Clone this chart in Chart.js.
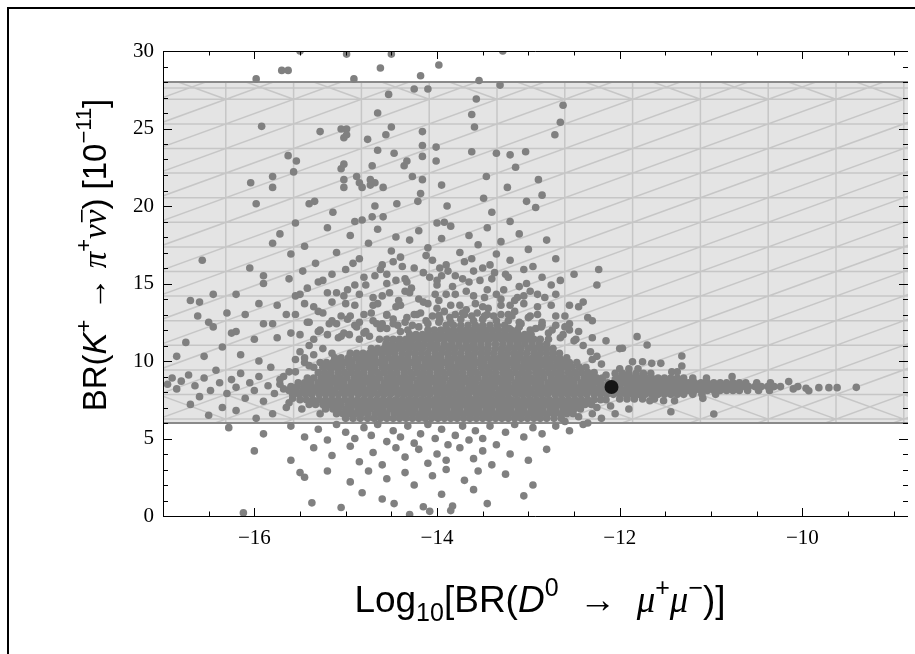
<!DOCTYPE html>
<html>
<head>
<meta charset="utf-8">
<script src="https://cdn.jsdelivr.net/npm/chart.js@4.4.1/dist/chart.umd.min.js"></script>
<style>
  html, body { margin: 0; padding: 0; background: #fff; overflow: hidden; }
</style>
</head>
<body>
<canvas id="myChart" width="915" height="654"></canvas>
<script>
//----- data

let xTicks = [-16, -14, -12, -10];
let yTicks = [0, 5, 10, 15, 20, 25, 30];
let xRange = [-17, -8.844];
let yRange = [0, 30];
let bandRange = [6, 28]; // allowed BR(K+ -> pi+ nu nubar) band
let bestPoint = [-12.09, 8.32];

// scattered points outside the solid core, [log10 BR(D0), BR(K+)]
let scanPoints = [
  // top, y > 19
  [-15.98,28.2],[-15.70,28.75],[-15.63,28.75],[-15.50,30.0],[-14.99,29.8],[-14.91,28.2],[-14.62,28.9],[-14.50,29.8],
  [-14.18,28.4],[-13.98,29.1],[-14.25,27.55],[-14.10,27.55],[-14.53,27.2],[-14.65,26.0],[-15.92,25.14],[-15.28,24.8],
  [-15.05,24.97],[-14.99,24.97],[-15.02,24.4],[-14.99,24.6],[-14.50,25.1],[-14.56,24.6],[-14.16,24.8],[-14.76,24.3],
  [-14.65,23.6],[-14.47,23.4],[-14.16,23.9],[-14.01,23.8],[-14.16,23.2],[-14.01,22.9],[-15.63,23.25],[-15.54,22.9],
  [-15.57,22.2],[-15.02,22.7],[-15.05,22.4],[-14.71,22.6],[-14.36,22.6],[-14.33,22.9],[-16.04,21.5],[-15.80,21.9],
  [-15.80,21.2],[-15.02,21.7],[-15.02,21.2],[-14.88,21.9],[-14.85,21.5],[-14.82,21.2],[-14.73,21.7],[-14.73,21.35],
  [-14.68,21.5],[-14.59,21.2],[-14.27,21.9],[-14.16,21.7],[-13.95,21.35],[-15.98,20.15],[-15.40,20.15],[-15.34,20.3],
  [-15.14,19.6],[-14.68,20.0],[-14.44,20.15],[-14.18,20.8],[-14.21,20.3],[-14.82,19.1],[-14.71,19.3],[-14.59,19.3],
  [-13.92,18.95],[-13.89,20.0],
  [-13.28,30.0],[-13.54,28.1],[-13.31,27.8],[-13.57,26.9],[-13.62,25.9],[-12.62,26.5],[-12.65,25.4],[-12.71,24.6],
  [-13.03,23.5],[-13.20,23.3],[-13.35,23.4],[-13.14,22.5],[-13.46,21.9],[-12.89,21.7],[-13.23,21.2],[-12.85,20.7],
  [-13.49,20.5],[-13.02,20.3],[-13.40,19.6],[-12.92,19.9],[-13.62,23.5],[-13.59,25.1],
  // y 15 - 19
  [-16.57,16.5],[-15.72,18.2],[-15.45,17.4],[-15.33,16.3],[-15.47,15.8],[-15.90,15.5],[-15.60,16.9],[-15.20,18.6],
  [-15.10,17.0],[-15.00,15.9],[-14.95,18.1],[-14.85,16.6],[-14.80,15.4],[-14.75,17.6],[-14.65,18.5],[-14.60,16.2],
  [-14.55,15.6],[-14.50,17.1],[-14.45,18.0],[-14.40,16.7],[-14.35,15.3],[-14.30,17.8],[-14.25,16.0],[-14.20,18.4],
  [-14.15,15.7],[-14.10,17.3],[-14.05,16.5],[-14.00,15.2],[-13.95,17.9],[-13.90,16.2],[-13.85,18.7],[-13.80,15.5],
  [-13.75,17.0],[-13.70,16.4],[-13.65,18.1],[-13.60,15.8],[-13.55,17.5],[-13.50,16.0],[-13.45,18.6],[-13.40,15.3],
  [-13.35,16.9],[-13.30,17.7],[-13.25,15.6],[-13.20,16.5],[-13.10,18.2],[-13.05,15.9],[-13.00,17.2],[-12.95,16.1],
  [-12.85,15.4],[-12.80,17.8],[-12.70,16.6],[-12.65,15.2],[-15.25,15.2],[-15.55,18.9],[-15.80,17.6],[-16.05,16.0],
  [-14.90,19.0],[-14.00,18.9],[-13.20,19.0],[-12.23,15.9],[-12.50,15.6],
  [-14.62,15.9],[-14.38,16.1],[-14.12,16.8],[-13.88,15.8],[-13.62,16.6],[-13.37,15.7],[-13.95,15.5],[-14.45,15.2],
  [-15.15,15.6],[-14.98,14.6],[-14.92,16.3],[-14.78,14.9],[-14.68,15.5],[-14.52,14.4],[-14.48,16.4],[-14.33,15.1],
  [-14.28,14.7],[-14.08,15.4],[-14.02,14.3],[-13.97,16.0],[-13.83,14.8],[-13.72,15.3],[-13.68,14.5],[-13.53,15.2],
  [-13.48,14.1],[-13.42,16.2],[-13.27,14.6],[-13.22,15.4],[-13.12,14.1],[-13.02,15.0],[-12.98,14.5],[-12.82,14.1],
  [-15.42,14.7],[-15.62,15.3],[-15.02,14.2],[-14.42,13.9],[-13.98,13.9],[-13.15,13.9],
  // y 11 - 15
  [-16.45,14.3],[-15.90,15.0],[-15.55,14.2],[-15.30,15.1],[-15.10,14.4],[-14.90,14.9],[-14.70,14.1],[-14.55,15.0],
  [-14.35,14.5],[-14.20,14.0],[-14.00,14.9],[-13.80,14.3],[-13.65,15.1],[-13.45,14.6],[-13.30,14.0],[-13.10,14.8],
  [-12.90,14.3],[-12.75,14.9],
  [-16.60,13.8],[-16.20,14.3],[-15.75,13.6],[-15.50,14.3],[-15.35,13.5],[-15.20,14.4],[-15.00,13.7],[-14.85,14.3],
  [-14.70,13.6],[-14.60,14.2],[-14.45,13.5],[-14.30,14.4],[-14.15,13.8],[-14.00,13.4],[-13.90,14.3],[-13.75,13.6],
  [-13.60,14.2],[-13.50,13.5],[-13.35,14.3],[-13.20,13.6],[-13.05,14.2],[-12.90,13.5],[-12.70,14.3],[-12.55,13.6],
  [-16.30,13.1],[-15.95,13.7],[-15.65,13.0],[-15.45,13.7],[-15.30,13.2],[-15.15,13.8],[-15.05,12.9],[-14.90,13.6],
  [-14.80,13.0],[-14.65,13.7],[-14.55,12.95],[-14.40,13.6],[-14.25,13.0],[-14.10,13.7],[-13.98,12.95],[-13.85,13.6],
  [-13.70,13.0],[-13.58,13.7],[-13.45,13.0],[-13.30,13.6],[-13.18,12.9],[-13.05,13.7],[-12.90,13.0],[-12.75,13.6],
  [-12.60,12.9],[-12.45,13.5],
  [-16.50,12.5],[-16.10,13.0],[-15.80,12.4],[-15.55,13.0],[-15.40,12.5],[-15.25,13.1],[-15.10,12.4],[-14.98,12.7],
  [-14.85,12.5],[-14.72,13.1],[-14.60,12.4],[-14.48,12.7],[-14.35,12.5],[-14.22,13.0],[-14.10,12.4],[-13.97,12.7],
  [-13.85,12.5],[-13.72,13.1],[-13.60,12.6],[-13.48,12.9],[-13.35,12.6],[-13.22,13.0],[-13.10,12.5],[-12.98,12.9],
  [-12.85,12.3],[-12.70,12.9],[-12.55,12.4],[-12.35,12.8],
  [-16.20,11.9],[-15.90,12.4],[-15.60,11.8],[-15.42,12.5],[-15.28,12.0],[-15.15,12.6],[-15.02,11.8],[-14.90,12.3],
  [-14.78,11.9],[-14.66,12.4],[-14.55,12.1],[-14.43,12.3],[-14.32,12.0],[-14.20,12.2],[-13.21,12.1],[-13.10,12.2],
  [-12.98,12.0],[-12.86,12.2],[-12.74,12.0],[-12.60,12.2],[-12.45,11.9],
  [-15.75,11.5],[-15.50,11.7],[-15.35,11.4],[-15.20,11.7],[-15.08,11.5],[-14.96,11.7],[-14.85,11.4],[-14.74,11.6],
  [-14.63,11.4],[-12.78,11.4],[-12.65,11.5],[-12.50,11.3],[-12.30,11.5],
  [-15.30,11.9],[-15.18,12.4],[-15.05,11.6],[-14.95,12.9],[-14.88,12.2],[-14.80,11.8],[-14.70,12.6],[-14.62,12.1],
  [-14.55,13.0],[-14.48,12.4],[-14.40,11.9],[-14.33,12.8],[-14.27,12.3],[-14.18,13.1],[-14.12,12.6],[-14.05,12.9],
  [-13.98,12.5],[-13.92,13.2],[-13.86,12.8],[-13.80,13.0],[-13.74,12.7],[-13.68,13.3],[-13.62,12.9],[-13.56,13.1],
  [-13.50,12.7],[-13.44,13.4],[-13.38,12.9],[-13.30,13.0],[-13.22,12.6],[-13.15,13.2],[-13.08,12.4],[-13.00,12.8],
  [-12.92,12.1],[-12.85,12.5],[-12.78,11.8],[-12.70,12.3],[-12.62,11.7],[-12.55,12.0],[-12.48,11.4],[-12.40,11.0],
  [-12.32,10.6],[-12.25,10.3],
  [-15.40,9.7],[-15.55,9.3],[-12.15,9.1],[-12.05,8.8],
  // ragged core edges
  [-15.72,8.5],[-15.68,9.0],[-15.62,7.3],[-15.48,6.9],[-15.28,6.6],[-15.35,9.6],[-15.45,9.9],[-12.60,6.1],
  [-12.45,6.4],[-12.25,7.0],[-12.30,10.1],[-12.20,9.8],
  // left side
  [-16.95,8.5],[-16.90,8.9],[-16.85,8.2],[-16.80,8.7],[-16.72,9.1],[-16.65,8.4],[-16.60,7.7],[-16.55,8.9],
  [-16.48,8.1],[-16.42,9.4],[-16.38,8.6],[-16.30,7.9],[-16.25,8.8],[-16.20,8.3],[-16.15,9.2],[-16.10,7.6],
  [-16.05,8.6],[-16.00,8.1],[-15.95,9.0],[-15.90,7.4],[-15.85,8.4],[-15.82,9.6],[-15.78,7.9],[-15.72,8.8],
  [-15.68,8.2],[-15.65,7.0],[-15.62,9.3],[-15.58,7.6],[-15.55,10.1],
  [-16.70,13.9],[-16.75,11.2],[-16.55,10.3],[-16.45,12.2],[-16.35,10.9],[-16.25,11.8],[-16.15,10.4],[-16.00,11.4],
  [-15.95,10.0],[-16.85,10.3],[-16.62,12.9],[-16.70,7.2],[-16.50,6.5],[-16.35,7.0],[-16.20,6.8],[-15.98,6.3],
  [-15.80,6.6],[-15.50,10.6],[-15.40,11.0],[-15.45,10.2],[-15.35,10.4],[-15.25,10.8],[-15.15,10.5],
  // below the band
  [-16.28,5.7],[-15.90,5.3],[-15.60,5.8],[-15.45,5.1],[-15.30,5.6],[-15.20,4.9],[-15.10,5.9],[-15.00,5.4],
  [-14.90,5.0],[-14.80,5.7],[-14.72,5.2],[-14.65,5.9],[-14.55,4.8],[-14.48,5.5],[-14.40,5.1],[-14.32,5.8],
  [-14.25,4.7],[-14.18,5.3],[-14.10,5.9],[-14.02,5.0],[-13.95,5.6],[-13.88,4.6],[-13.80,5.2],[-13.72,5.8],
  [-13.65,4.9],[-13.58,5.5],[-13.50,5.0],[-13.42,5.8],[-13.35,4.6],[-13.25,5.4],[-13.15,5.9],[-13.05,5.1],
  [-12.95,5.7],[-12.85,5.3],[-12.70,5.8],[-12.55,5.5],[-12.40,5.9],
  [-16.00,4.2],[-15.60,3.6],[-15.35,4.4],[-15.15,3.9],[-14.95,4.5],[-14.85,3.5],[-14.70,4.1],[-14.60,3.3],
  [-14.45,4.4],[-14.35,3.8],[-14.20,4.3],[-14.10,3.4],[-14.00,4.0],[-13.90,3.6],[-13.75,4.4],[-13.60,3.7],
  [-13.50,4.2],[-13.40,3.3],[-13.20,4.0],[-13.00,3.6],[-12.80,4.3],
  [-15.50,2.8],[-15.45,2.5],[-15.20,2.9],[-14.95,2.2],[-14.75,2.9],[-14.55,2.4],[-14.35,2.8],[-14.25,2.0],
  [-14.05,2.6],[-13.90,3.0],[-13.70,2.3],[-13.55,2.9],[-13.25,2.7],[-12.95,2.0],
  [-16.12,0.2],[-15.37,0.85],[-15.05,0.55],[-14.82,1.5],[-14.60,1.1],[-14.47,0.8],[-14.30,0.1],[-14.15,0.6],
  [-14.08,0.3],[-13.95,1.4],[-13.85,0.35],[-13.83,0.65],[-13.60,1.7],[-13.45,0.8],[-13.05,1.3],
  // right of the core
  [-12.30,12.6],[-12.15,11.3],[-12.00,10.8],[-11.97,10.82],[-11.81,11.57],[-11.70,11.03],[-12.40,13.8],[-12.25,14.9],
  [-11.32,10.32],[-11.32,9.68],[-11.43,9.31],[-11.37,9.31],[-11.86,9.95],[-11.75,9.95],[-11.65,9.85],[-11.55,9.85],
  [-11.09,7.59],[-10.97,6.58],[-11.44,6.73],[-11.67,7.44],[-11.52,7.44],[-11.40,7.44],[-12.20,6.3],[-12.35,6.0],
  [-11.90,6.9],[-12.05,6.6],[-12.10,7.1],[-12.30,6.6],
  [-12.00,9.5],[-11.90,9.5],[-11.80,9.5],
  [-12.05,9.2],[-11.97,9.2],[-11.90,9.2],[-11.82,9.2],[-11.74,9.2],[-11.66,9.2],
  [-12.00,7.55],[-11.92,7.55],[-11.84,7.55],[-11.75,7.55],[-11.62,7.55],
  [-10.77,8.99],[-10.15,8.67],[-9.96,8.24],[-9.93,8.08],[-9.82,8.28],[-9.71,8.28],[-9.62,8.28],[-9.41,8.3],
  [-10.05,8.35],[-10.10,8.2]
];

// solid core and tail, read as rows: [BR(K+), log10 BR(D0) values]
let coreRows = [
  [6.3, [-15.00,-14.92,-14.84,-14.76,-14.69,-14.62,-14.55,-14.48,-14.41,-14.34,-14.27,-14.20,-14.13,-14.06,-13.99,-13.92,
         -13.85,-13.78,-13.71,-13.64,-13.57,-13.50,-13.43,-13.36,-13.29,-13.22,-13.15,-13.08,-13.01,-12.94,-12.87,-12.80,
         -12.72,-12.64]],
  [6.6, [-15.10,-15.03,-14.97,-14.90,-14.83,-14.76,-14.68,-14.61,-14.55,-14.47,-14.40,-14.33,-14.26,-14.19,-14.12,-14.05,
         -13.98,-13.91,-13.84,-13.77,-13.70,-13.63,-13.56,-13.49,-13.42,-13.35,-13.28,-13.21,-13.14,-13.07,-13.00,-12.93,
         -12.86,-12.79,-12.72,-12.65,-12.58,-12.51]],
  [6.9, [-15.22,-15.14,-15.08,-15.00,-14.94,-14.86,-14.80,-14.73,-14.65,-14.59,-14.51,-14.45,-14.38,-14.30,-14.24,-14.16,
         -14.10,-14.02,-13.96,-13.89,-13.81,-13.75,-13.67,-13.61,-13.54,-13.46,-13.40,-13.32,-13.26,-13.19,-13.11,-13.05,
         -12.97,-12.91,-12.84,-12.76,-12.70,-12.62,-12.56,-12.50,-12.43]],
  [7.2, [-15.40,-15.33,-15.25,-15.19,-15.11,-15.05,-14.97,-14.90,-14.83,-14.76,-14.69,-14.62,-14.55,-14.48,-14.41,-14.34,
         -14.27,-14.20,-14.13,-14.06,-13.99,-13.92,-13.85,-13.78,-13.71,-13.64,-13.57,-13.50,-13.43,-13.36,-13.29,-13.22,
         -13.15,-13.08,-13.01,-12.94,-12.87,-12.80,-12.73,-12.66,-12.59,-12.52,-12.45,-12.38,-12.31]],
  [7.5, [-15.50,-15.43,-15.36,-15.29,-15.22,-15.15,-15.08,-15.01,-14.94,-14.87,-14.80,-14.73,-14.66,-14.59,-14.52,-14.45,
         -14.38,-14.31,-14.24,-14.17,-14.10,-14.03,-13.96,-13.89,-13.82,-13.75,-13.68,-13.61,-13.54,-13.47,-13.40,-13.33,
         -13.26,-13.19,-13.12,-13.05,-12.98,-12.91,-12.84,-12.77,-12.70,-12.63,-12.56,-12.49,-12.42,-12.35,-12.28,-12.21,-12.15]],
  [7.85, [-15.58,-15.51,-15.44,-15.37,-15.29,-15.22,-15.15,-15.08,-15.01,-14.94,-14.86,-14.79,-14.72,-14.65,-14.58,-14.51,
         -14.43,-14.36,-14.29,-14.22,-14.15,-14.08,-14.00,-13.93,-13.86,-13.79,-13.72,-13.65,-13.57,-13.50,-13.43,-13.36,
         -13.29,-13.22,-13.14,-13.07,-13.00,-12.93,-12.86,-12.79,-12.71,-12.64,-12.57,-12.50,-12.43,-12.36,-12.28,-12.21,
         -12.14,-12.07,-12.00,-11.93,-11.86,-11.79,-11.72,-11.65,-11.58,-11.51,-11.44,-11.37,-11.30,-11.20,-11.10,-10.95]],
  [8.1, [-15.62,-15.55,-15.47,-15.40,-15.33,-15.26,-15.19,-15.12,-15.04,-14.97,-14.90,-14.83,-14.76,-14.69,-14.61,-14.54,
         -14.47,-14.40,-14.33,-14.26,-14.18,-14.11,-14.04,-13.97,-13.90,-13.83,-13.75,-13.68,-13.61,-13.54,-13.47,-13.40,
         -13.32,-13.25,-13.18,-13.11,-13.04,-12.97,-12.89,-12.82,-12.75,-12.68,-12.61,-12.54,-12.46,-12.39,-12.32,-12.25,
         -12.18,-12.11,-12.03,-11.96,-11.88,-11.81,-11.74,-11.67,-11.60,-11.53,-11.46,-11.39,-11.32,-11.25,-11.18,-11.11,
         -11.04,-10.97,-10.90,-10.83,-10.76,-10.69,-10.60,-10.48,-10.36]],
  [8.35, [-15.60,-15.53,-15.45,-15.38,-15.31,-15.24,-15.17,-15.09,-15.02,-14.95,-14.88,-14.81,-14.73,-14.66,-14.59,-14.52,
         -14.45,-14.37,-14.30,-14.23,-14.16,-14.09,-14.01,-13.94,-13.87,-13.80,-13.73,-13.65,-13.58,-13.51,-13.44,-13.37,
         -13.29,-13.22,-13.15,-13.08,-13.01,-12.93,-12.86,-12.79,-12.72,-12.65,-12.57,-12.50,-12.43,-12.36,-12.29,-12.21,
         -12.14,-12.07,-12.00,-11.92,-11.85,-11.78,-11.71,-11.64,-11.57,-11.50,-11.43,-11.36,-11.29,-11.22,-11.15,-11.08,
         -11.01,-10.94,-10.87,-10.80,-10.73,-10.66,-10.59,-10.52,-10.45,-10.38,-10.31,-10.24]],
  [8.6, [-15.52,-15.45,-15.38,-15.30,-15.23,-15.16,-15.09,-15.02,-14.94,-14.87,-14.80,-14.73,-14.66,-14.58,-14.51,-14.44,
         -14.37,-14.30,-14.22,-14.15,-14.08,-14.01,-13.94,-13.86,-13.79,-13.72,-13.65,-13.58,-13.50,-13.43,-13.36,-13.29,
         -13.22,-13.14,-13.07,-13.00,-12.93,-12.86,-12.78,-12.71,-12.64,-12.57,-12.50,-12.42,-12.35,-12.28,-12.21,-12.13,
         -12.02,-11.95,-11.88,-11.81,-11.74,-11.67,-11.60,-11.53,-11.46,-11.39,-11.32,-11.25,-11.18,-11.11,-11.04,-10.97,
         -10.90,-10.83,-10.76,-10.69,-10.62,-10.50,-10.35]],
  [8.9, [-15.42,-15.35,-15.27,-15.20,-15.13,-15.06,-14.99,-14.91,-14.84,-14.77,-14.70,-14.63,-14.55,-14.48,-14.41,-14.34,
         -14.27,-14.19,-14.12,-14.05,-13.98,-13.91,-13.83,-13.76,-13.69,-13.62,-13.55,-13.47,-13.40,-13.33,-13.26,-13.19,
         -13.11,-13.04,-12.97,-12.90,-12.83,-12.75,-12.68,-12.61,-12.54,-12.47,-12.39,-12.32,-12.25,-12.19,
         -12.00,-11.93,-11.86,-11.79,-11.72,-11.65,-11.58,-11.51,-11.44,-11.37,-11.30,-11.20,-11.05]],
  [9.25, [-15.30,-15.23,-15.16,-15.08,-15.01,-14.94,-14.87,-14.80,-14.72,-14.65,-14.58,-14.51,-14.44,-14.36,-14.29,-14.22,
         -14.15,-14.08,-14.00,-13.93,-13.86,-13.79,-13.72,-13.64,-13.57,-13.50,-13.43,-13.36,-13.28,-13.21,-13.14,-13.07,
         -13.00,-12.92,-12.85,-12.78,-12.71,-12.64,-12.56,-12.49,-12.42,-12.35,-12.28]],
  [9.6, [-15.25,-15.18,-15.11,-15.04,-14.96,-14.89,-14.82,-14.75,-14.68,-14.60,-14.53,-14.46,-14.39,-14.32,-14.24,-14.17,
         -14.10,-14.03,-13.96,-13.88,-13.81,-13.74,-13.67,-13.60,-13.52,-13.45,-13.38,-13.31,-13.24,-13.16,-13.09,-13.02,
         -12.95,-12.88,-12.80,-12.73,-12.66,-12.59,-12.52,-12.44,-12.37]],
  [9.9, [-15.28,-15.21,-15.14,-15.07,-15.00,-14.93,-14.85,-14.78,-14.71,-14.64,-14.57,-14.49,-14.42,-14.35,-14.28,-14.21,
         -14.13,-14.06,-13.99,-13.92,-13.85,-13.77,-13.70,-13.63,-13.56,-13.49,-13.41,-13.34,-13.27,-13.20,-13.13,-13.05,
         -12.98,-12.91,-12.84,-12.77,-12.69,-12.62,-12.55,-12.47]],
  [10.2, [-15.12,-15.05,-14.97,-14.89,-14.82,-14.75,-14.68,-14.60,-14.53,-14.46,-14.39,-14.32,-14.24,-14.17,-14.10,-14.03,
         -13.96,-13.88,-13.81,-13.74,-13.67,-13.60,-13.52,-13.45,-13.38,-13.31,-13.24,-13.16,-13.09,-13.02,-12.95,-12.88,
         -12.80,-12.73,-12.66,-12.58]],
  [10.5, [-14.95,-14.88,-14.81,-14.74,-14.67,-14.60,-14.53,-14.46,-14.38,-14.31,-14.24,-14.17,-14.10,-14.02,-13.95,-13.88,
         -13.81,-13.74,-13.66,-13.59,-13.52,-13.45,-13.38,-13.30,-13.23,-13.16,-13.09,-13.02,-12.94,-12.87,-12.80,-12.73,
         -12.66]],
  [10.8, [-14.72,-14.65,-14.58,-14.51,-14.44,-14.37,-14.30,-14.23,-14.16,-14.08,-14.01,-13.94,-13.87,-13.80,-13.72,-13.65,
         -13.58,-13.51,-13.44,-13.36,-13.29,-13.22,-13.15,-13.08,-13.00,-12.93,-12.86,-12.80,-12.73]],
  [11.1, [-14.56,-14.49,-14.42,-14.35,-14.28,-14.21,-14.14,-14.07,-14.00,-13.92,-13.84,-13.76,-13.68,-13.60,-13.52,-13.44,
         -13.36,-13.28,-13.20,-13.12,-13.04,-12.96,-12.88,-12.80]],
  [11.4, [-14.55,-14.48,-14.41,-14.34,-14.27,-14.20,-14.13,-14.06,-13.99,-13.92,-13.85,-13.78,-13.71,-13.64,-13.57,-13.50,
         -13.43,-13.36,-13.29,-13.22,-13.15,-13.08,-13.01,-12.94,-12.87]],
  [11.7, [-14.30,-14.23,-14.16,-14.09,-14.02,-13.95,-13.88,-13.81,-13.74,-13.67,-13.60,-13.53,-13.46,-13.39,-13.32,-13.25,
         -13.18,-13.11,-13.04,-12.97]],
  [12.0, [-14.10,-14.03,-13.96,-13.89,-13.82,-13.75,-13.68,-13.61,-13.54,-13.47,-13.40,-13.33,-13.26,-13.19,-13.12]],
  [12.3, [-13.90,-13.82,-13.74,-13.66,-13.58,-13.50,-13.42,-13.34,-13.26]]
];

let cloud = scanPoints.map((p) => ({ x: p[0], y: p[1] }));
coreRows.forEach((row) => {
  row[1].forEach((v) => cloud.push({ x: v, y: row[0] }));
});

//----- band with Mathematica-like hatching

let bandPlugin = {
  id: "band",
  beforeDatasetsDraw(chart) {
    let { ctx, chartArea: a, scales } = chart;
    let top = scales.y.getPixelForValue(bandRange[1]);
    let bot = scales.y.getPixelForValue(bandRange[0]);
    ctx.save();
    ctx.beginPath();
    ctx.rect(a.left, top, a.right - a.left, bot - top);
    ctx.clip();
    ctx.fillStyle = "#e4e4e4";
    ctx.fillRect(a.left, top, a.right - a.left, bot - top);

    let cw = 67.8, rh = 24.6;
    let x0 = a.left - 5, y0 = top + 17.3;
    ctx.strokeStyle = "rgba(140,140,140,0.34)";
    ctx.lineWidth = 1.5;
    ctx.beginPath();
    for (let px = x0; px < a.right + 1; px += cw) {
      ctx.moveTo(px, top);
      ctx.lineTo(px, bot);
    }
    for (let py = y0; py < bot; py += rh) {
      ctx.moveTo(a.left, py);
      ctx.lineTo(a.right, py);
    }
    ctx.moveTo(a.left, top + 6);
    ctx.lineTo(a.right, top + 6);
    for (let k = -3; k < 30; k++) {
      let xk = x0 + k * cw;
      ctx.moveTo(xk - 16 * cw, y0 + 16 * rh);
      ctx.lineTo(xk + 2 * cw, y0 - 2 * rh);
      // reverse strokes in the top and bottom strips
      ctx.moveTo(xk, y0);
      ctx.lineTo(xk - cw, y0 - rh);
      ctx.moveTo(xk, y0 + 13 * rh);
      ctx.lineTo(xk - cw, y0 + 12 * rh);
    }
    ctx.stroke();
    ctx.restore();

    ctx.save();
    ctx.strokeStyle = "#8a8a8a";
    ctx.lineWidth = 2.2;
    ctx.beginPath();
    ctx.moveTo(a.left, top);
    ctx.lineTo(a.right, top);
    ctx.moveTo(a.left, bot);
    ctx.lineTo(a.right, bot);
    ctx.stroke();
    ctx.restore();
  },
};

//----- frame, inward ticks and titles

function drawRich(ctx, parts, cx, cy, angle) {
  ctx.save();
  ctx.translate(cx, cy);
  ctx.rotate(angle);
  ctx.fillStyle = "#000";
  ctx.textBaseline = "alphabetic";
  let total = 0;
  parts.forEach((p) => {
    ctx.font = p.f;
    p.w = ctx.measureText(p.t).width;
    total += p.w;
  });
  let xx = -total / 2;
  parts.forEach((p) => {
    ctx.font = p.f;
    ctx.fillText(p.t, xx, p.dy || 0);
    if (p.bar) {
      ctx.fillRect(xx + 2, -25, p.w - 2, 1.6);
    }
    xx += p.w;
  });
  ctx.restore();
}

let fam = "'Liberation Sans', Arial, sans-serif";
let serif = "'Liberation Serif', 'Times New Roman', serif";
let yt = { sans: "33px " + fam, it: "italic 33px " + fam, gr: "italic 33px " + serif, sm: "22px " + fam };
let xt = { sans: "37px " + fam, it: "italic 37px " + fam, gr: "italic 37px " + serif, sm: "25px " + fam };

let yTitle = [
  { t: "BR(", f: yt.sans }, { t: "K", f: yt.it }, { t: "+", f: yt.sm, dy: -15 },
  { t: " \u2192 ", f: yt.sans }, { t: "\u03C0", f: yt.gr }, { t: "+", f: yt.sm, dy: -15 },
  { t: "\u03BD", f: yt.gr }, { t: "\u03BD", f: yt.gr, bar: true }, { t: ") [10", f: yt.sans },
  { t: "\u221211", f: yt.sm, dy: -15 }, { t: "]", f: yt.sans },
];
let xTitle = [
  { t: "Log", f: xt.sans }, { t: "10", f: xt.sm, dy: 9 }, { t: "[BR(", f: xt.sans },
  { t: "D", f: xt.it }, { t: "0", f: xt.sm, dy: -16 }, { t: "  \u2192  ", f: xt.sans },
  { t: "\u03BC", f: xt.gr }, { t: "+", f: xt.sm, dy: -16 }, { t: "\u03BC", f: xt.gr },
  { t: "\u2212", f: xt.sm, dy: -16 }, { t: ")]", f: xt.sans },
];

let framePlugin = {
  id: "frame",
  afterDatasetsDraw(chart) {
    let { ctx, chartArea: a, scales } = chart;
    let x = scales.x, y = scales.y;
    ctx.save();
    ctx.strokeStyle = "#000";
    ctx.lineWidth = 1;
    ctx.beginPath();
    ctx.moveTo(a.right, a.top + 0.5);
    ctx.lineTo(a.left + 0.5, a.top + 0.5);
    ctx.lineTo(a.left + 0.5, a.bottom + 0.5);
    ctx.lineTo(a.right, a.bottom + 0.5);
    for (let v = -17; v <= x.max; v += 0.5) {
      let px = Math.round(x.getPixelForValue(v)) + 0.5;
      let len = xTicks.includes(v) ? 8 : 4.5;
      ctx.moveTo(px, a.bottom);
      ctx.lineTo(px, a.bottom - len);
      ctx.moveTo(px, a.top);
      ctx.lineTo(px, a.top + len);
    }
    for (let v = yRange[0]; v <= yRange[1]; v += 1) {
      let py = Math.round(y.getPixelForValue(v)) + 0.5;
      let len = yTicks.includes(v) ? 9 : 5;
      ctx.moveTo(a.left, py);
      ctx.lineTo(a.left + len, py);
      ctx.moveTo(a.right, py);
      ctx.lineTo(a.right - len, py);
    }
    ctx.stroke();
    ctx.restore();
  },
  afterDraw(chart) {
    let ctx = chart.ctx;
    drawRich(ctx, xTitle, 540, 612, 0);
    drawRich(ctx, yTitle, 106, 255, -Math.PI / 2);
    // outer figure border
    ctx.save();
    ctx.fillStyle = "#000";
    ctx.fillRect(7, 7, 908, 2);
    ctx.fillRect(7, 7, 2, 647);
    ctx.restore();
  },
};

let minusLabel = (v) => String(v).replace("-", "\u2212");

let mychart = document.getElementById("myChart").getContext("2d");
let scatterChart = new Chart(mychart, {
  type: "scatter",
  data: {
    datasets: [
      {
        label: "scan",
        data: cloud,
        pointRadius: 3.8,
        pointHoverRadius: 3.8,
        backgroundColor: "#808080",
        borderWidth: 0,
        clip: 0,
        order: 1,
      },
      {
        label: "best",
        data: [{ x: bestPoint[0], y: bestPoint[1] }],
        pointRadius: 7,
        pointHoverRadius: 7,
        backgroundColor: "#161616",
        borderWidth: 0,
        order: 0,
      },
    ],
  },
  options: {
    responsive: false,
    animation: false,
    devicePixelRatio: 1,
    layout: { padding: { left: 0, top: 51, right: 0, bottom: 0 } },
    plugins: { legend: { display: false }, tooltip: { enabled: false } },
    scales: {
      x: {
        type: "linear",
        min: xRange[0],
        max: xRange[1],
        afterBuildTicks: (s) => { s.ticks = xTicks.map((v) => ({ value: v })); },
        afterFit: (s) => { s.height = 138; },
        grid: { display: false, drawTicks: false },
        border: { display: false },
        ticks: {
          color: "#000",
          padding: 10,
          maxRotation: 0,
          font: { family: serif, size: 21 },
          callback: minusLabel,
        },
      },
      y: {
        type: "linear",
        min: yRange[0],
        max: yRange[1],
        afterBuildTicks: (s) => { s.ticks = yTicks.map((v) => ({ value: v })); },
        afterFit: (s) => { s.width = 163; },
        grid: { display: false, drawTicks: false },
        border: { display: false },
        ticks: {
          color: "#000",
          padding: 9,
          font: { family: serif, size: 21 },
          callback: minusLabel,
        },
      },
    },
  },
  plugins: [bandPlugin, framePlugin],
});
</script>
</body>
</html>
